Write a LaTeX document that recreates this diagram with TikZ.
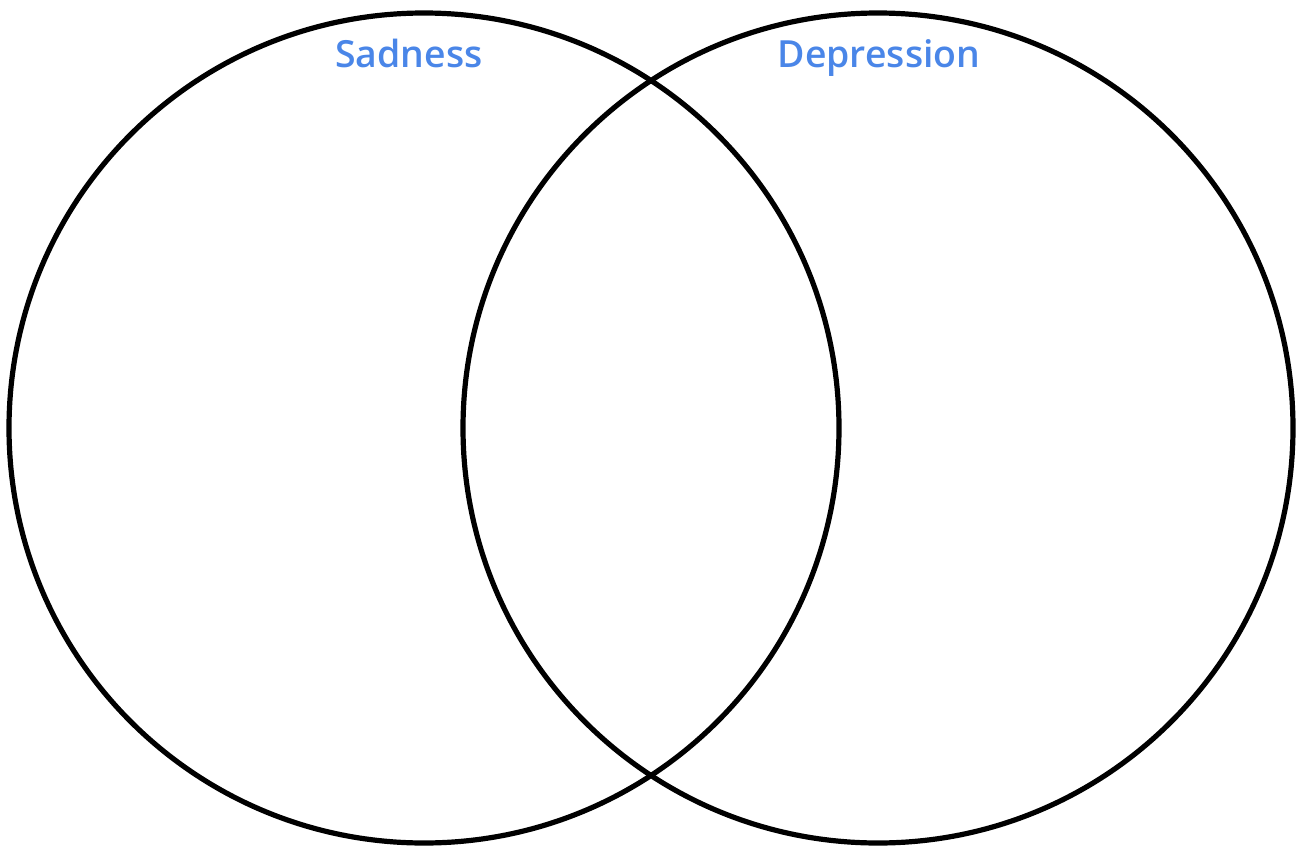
\documentclass[tikz,border=0pt]{standalone}
\usepackage{fontspec}
\setmainfont{Open Sans}[BoldFont={Open Sans Semibold}]
\definecolor{labblue}{HTML}{4A86E8}
\begin{document}
\begin{tikzpicture}[x=1pt,y=-1pt,
  venn/.style={draw=black,line width=5.2pt},
  lab/.style={text=labblue,font=\fontsize{37.4}{40}\selectfont\bfseries,anchor=base,inner sep=0pt}]
\useasboundingbox (0,0) rectangle (1299,846);
\draw[venn] (424,428) circle[radius=415];
\draw[venn] (878,428) circle[radius=415];
\node[lab] (sad) at (409,67) {Sadness};
\node[lab] (dep) at (879,67) {Depression};
\end{tikzpicture}
\end{document}
